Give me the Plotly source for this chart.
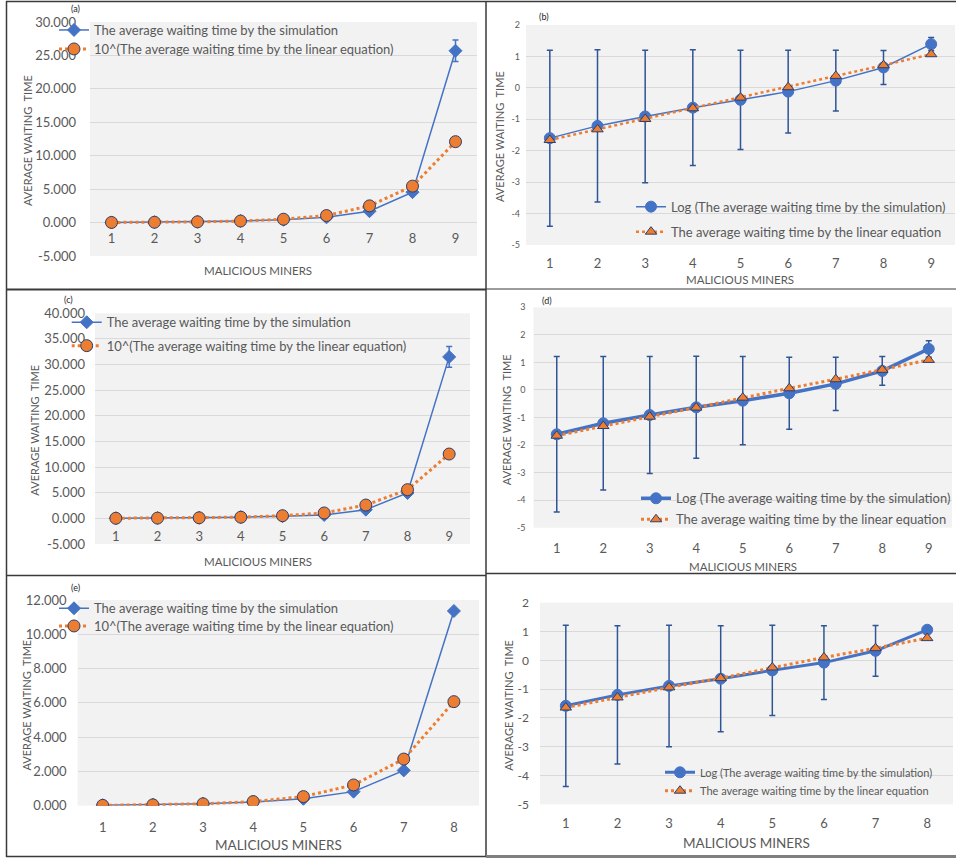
import plotly.graph_objects as go

W, H = 956, 858
def px(x): return x / W
def py(y): return 1 - y / H

# ---------------- data ----------------
miners9 = [1, 2, 3, 4, 5, 6, 7, 8, 9]
miners8 = [1, 2, 3, 4, 5, 6, 7, 8]

a_sim = [0.02, 0.06, 0.12, 0.24, 0.42, 0.78, 1.70, 4.55, 25.7]
a_sim_err = [None, None, None, None, None, None, None, None, 1.6]
a_lin = [0.02, 0.05, 0.11, 0.23, 0.50, 1.05, 2.50, 5.45, 12.1]

b_sim = [-1.60, -1.21, -0.91, -0.63, -0.38, -0.12, 0.23, 0.65, 1.39]
b_sim_err = [2.80, 2.42, 2.11, 1.84, 1.58, 1.32, 0.97, 0.54, 0.21]
b_lin = [-1.66, -1.32, -0.99, -0.65, -0.31, 0.02, 0.38, 0.72, 1.07]

c_sim = [0.02, 0.06, 0.12, 0.24, 0.41, 0.66, 1.70, 4.95, 31.5]
c_sim_err = [None, None, None, None, None, None, None, None, 2.0]
c_lin = [0.02, 0.05, 0.11, 0.23, 0.52, 1.05, 2.60, 5.60, 12.55]

d_sim = [-1.61, -1.21, -0.91, -0.63, -0.39, -0.12, 0.22, 0.69, 1.49]
d_sim_err = [2.82, 2.42, 2.12, 1.85, 1.60, 1.31, 0.97, 0.52, 0.30]
d_lin = [-1.66, -1.31, -0.97, -0.64, -0.28, 0.06, 0.39, 0.73, 1.09]

e_sim = [0.03, 0.06, 0.12, 0.22, 0.40, 0.82, 2.06, 11.36]
e_lin = [0.02, 0.05, 0.11, 0.24, 0.53, 1.21, 2.72, 6.07]

f_sim = [-1.58, -1.20, -0.89, -0.64, -0.35, -0.08, 0.33, 1.06]
f_sim_err = [2.80, 2.40, 2.11, 1.84, 1.57, 1.28, 0.88, None]
f_lin = [-1.64, -1.29, -0.94, -0.62, -0.25, 0.10, 0.42, 0.77]

ticks_big_a = [-5, 0, 5, 10, 15, 20, 25, 30]
ticks_big_a_text = ["-5.000", "0.000", "5.000", "10.000", "15.000", "20.000", "25.000", "30.000"]
ticks_big_c = [-5, 0, 5, 10, 15, 20, 25, 30, 35, 40]
ticks_big_c_text = ["-5.000", "0.000", "5.000", "10.000", "15.000", "20.000", "25.000", "30.000", "35.000", "40.000"]
ticks_big_e = [0, 2, 4, 6, 8, 10, 12]
ticks_big_e_text = ["0.000", "2.000", "4.000", "6.000", "8.000", "10.000", "12.000"]
ticks_log_b = [-5, -4, -3, -2, -1, 0, 1, 2]
ticks_log_b_text = ["-5", "-4", "-3", "-2", "-1", "0", "1", "2"]
ticks_log_d = [-5, -4, -3, -2, -1, 0, 1, 2, 3]
ticks_log_d_text = ["-5", "-4", "-3", "-2", "-1", "0", "1", "2", "3"]

name_sim = "The average waiting time by the simulation"
name_lin10 = "10^(The average waiting time by the linear equation)"
name_simlog = "Log (The average waiting time by the simulation)"
name_lin = "The average waiting time by the linear equation"

BLUE = "#4472C4"
ORANGE = "#ED7D31"
OUTLINE = "#2F3F6B"
GRAY_TXT = "#595959"
GRID = "#D9D9D9"
FONT = "Lato, 'Liberation Sans', sans-serif"

fig = go.Figure()

panels = [
    dict(key="a", idx=1, x=miners9, sim=a_sim, err=a_sim_err, lin=a_lin, kind="big",
         dom=(90, 477, 22, 256), rng=(-5, 30), tv=ticks_big_a, tt=ticks_big_a_text, ytick_fs=13, ygap=13,
         xfree=True, xgap=6, xfs=13,
         leg=(54, 30, 49), legfs=13, names=(name_sim, name_lin10),
         label="(a)", label_xy=(75, 8.5), ytitle_x=27, ytitle_fs=11, xtitle_xy=(258, 270), xtitle_fs=11.5),
    dict(key="b", idx=2, x=miners9, sim=b_sim, err=b_sim_err, lin=b_lin, kind="log",
         dom=(526, 955, 25, 245), rng=(-5, 2), tv=ticks_log_b, tt=ticks_log_b_text, ytick_fs=9, ygap=5,
         xfree=False, xgap=9, xfs=13,
         leg=(631, 206.7, 231.7), legfs=13, names=(name_simlog, name_lin), simw=1.5,
         label="(b)", label_xy=(544, 16), ytitle_x=500, ytitle_fs=11, xtitle_xy=(740, 279), xtitle_fs=11.5),
    dict(key="c", idx=3, x=miners9, sim=c_sim, err=c_sim_err, lin=c_lin, kind="big",
         dom=(95, 470, 313.3, 544), rng=(-5, 40), tv=ticks_big_c, tt=ticks_big_c_text, ytick_fs=13, ygap=9,
         xfree=True, xgap=9, xfs=13,
         leg=(66.7, 322.3, 345.7), legfs=13, names=(name_sim, name_lin10),
         label="(c)", label_xy=(68, 299), ytitle_x=35, ytitle_fs=11, xtitle_xy=(258, 561.7), xtitle_fs=11.5),
    dict(key="d", idx=4, x=miners9, sim=d_sim, err=d_sim_err, lin=d_lin, kind="log",
         dom=(533.5, 952, 307.3, 527.7), rng=(-5, 3), tv=ticks_log_d, tt=ticks_log_d_text, ytick_fs=9, ygap=7,
         xfree=False, xgap=11, xfs=13,
         leg=(636, 498.3, 519.3), legfs=13, names=(name_simlog, name_lin), simw=3.5,
         label="(d)", label_xy=(546.7, 300.7), ytitle_x=506.7, ytitle_fs=11, xtitle_xy=(743, 566.7), xtitle_fs=11.5),
    dict(key="e", idx=5, x=miners8, sim=e_sim, err=None, lin=e_lin, kind="big",
         dom=(77.6, 479, 600, 805.7), rng=(0, 12), tv=ticks_big_e, tt=ticks_big_e_text, ytick_fs=13, ygap=10,
         xfree=False, xgap=12, xfs=13,
         leg=(54, 608.3, 626), legfs=13, names=(name_sim, name_lin10),
         label="(e)", label_xy=(75, 587.5), ytitle_x=26.7, ytitle_fs=11, xtitle_xy=(278.3, 845), xtitle_fs=13.5),
    dict(key="f", idx=6, x=miners8, sim=f_sim, err=f_sim_err, lin=f_lin, kind="log",
         dom=(540, 953, 602.7, 804.3), rng=(-5, 2), tv=ticks_log_b, tt=ticks_log_b_text, ytick_fs=12, ygap=10,
         xfree=False, xgap=10, xfs=13,
         leg=(660, 772.3, 790.7), legfs=11, names=(name_simlog, name_lin), simw=3,
         label=None, label_xy=None, ytitle_x=508.3, ytitle_fs=11, xtitle_xy=(746.7, 843.3), xtitle_fs=13.5),
]

annotations = []
leg_counter = 0
def next_legend():
    global leg_counter
    leg_counter += 1
    return "legend" if leg_counter == 1 else "legend" + str(leg_counter)

for p in panels:
    i = p["idx"]
    sfx = "" if i == 1 else str(i)
    xa, ya = "x" + sfx, "y" + sfx
    x0, x1, y0, y1 = p["dom"]
    n = len(p["x"])

    err = None
    if p["err"] is not None:
        err = dict(type="data", array=p["err"], visible=True, color="#2F5597" if p["kind"] == "log" else BLUE,
                   thickness=1.5, width=3)

    if p["kind"] == "big":
        sim_marker = dict(symbol="diamond", size=10, color=BLUE, line=dict(color=BLUE, width=1))
        sim_line = dict(color=BLUE, width=1.5)
        lin_marker = dict(symbol="circle", size=12, color=ORANGE, line=dict(color=OUTLINE, width=1))
        lin_line = dict(color=ORANGE, width=3, dash="dot")
    else:
        sim_marker = dict(symbol="circle", size=11, color=BLUE, line=dict(color=BLUE, width=1))
        sim_line = dict(color=BLUE, width=p.get("simw", 1.5))
        lin_marker = dict(symbol="triangle-up", size=10, color=ORANGE, line=dict(color=OUTLINE, width=1))
        lin_line = dict(color=ORANGE, width=2.5 if p["key"] == "b" else 3, dash="dot")

    lx, ly1, ly2 = p["leg"]
    series = [(p["sim"], p["names"][0], sim_line, sim_marker, err, ly1),
              (p["lin"], p["names"][1], lin_line, lin_marker, None, ly2)]
    for yvals, nm, ln, mk, er, ly in series:
        lg = next_legend()
        fig.add_trace(go.Scatter(x=p["x"], y=yvals, mode="lines+markers", name=nm,
                                 line=ln, marker=mk, error_y=er,
                                 xaxis=xa, yaxis=ya, legend=lg))
        fig.update_layout(**{lg: dict(x=px(lx), y=py(ly), xanchor="left", yanchor="middle",
                                      bgcolor="rgba(0,0,0,0)", borderwidth=0,
                                      font=dict(family=FONT, size=p["legfs"], color=GRAY_TXT),
                                      itemwidth=30)})

    xaxis = dict(domain=[px(x0), px(x1)], range=[0.5, n + 0.5], tickvals=p["x"],
                 showgrid=False, zeroline=False, showline=False, automargin=False,
                 ticks="", ticklabelstandoff=p["xgap"],
                 tickfont=dict(family=FONT, size=p["xfs"], color=GRAY_TXT), fixedrange=True)
    if p["xfree"]:
        zero_px = y0 + (y1 - y0) * (p["rng"][1] - 0) / (p["rng"][1] - p["rng"][0])
        xaxis.update(anchor="free", position=py(zero_px))
    else:
        xaxis.update(anchor=ya)
    yaxis = dict(domain=[py(y1), py(y0)], range=list(p["rng"]), tickvals=p["tv"], ticktext=p["tt"],
                 showgrid=True, gridcolor=GRID, gridwidth=1, zeroline=False, showline=False, automargin=False,
                 ticks="", ticklabelstandoff=p["ygap"],
                 tickfont=dict(family=FONT, size=p["ytick_fs"], color=GRAY_TXT), anchor=xa, fixedrange=True)
    fig.update_layout(**{"xaxis" + sfx: xaxis, "yaxis" + sfx: yaxis})

    annotations.append(dict(x=px(p["ytitle_x"]), y=py((y0 + y1) / 2 + 2), xref="paper", yref="paper",
                            text="AVERAGE WAITING\u00a0 TIME", textangle=-90, showarrow=False,
                            font=dict(family=FONT, size=p["ytitle_fs"], color=GRAY_TXT),
                            xanchor="center", yanchor="middle"))
    annotations.append(dict(x=px(p["xtitle_xy"][0]), y=py(p["xtitle_xy"][1]), xref="paper", yref="paper",
                            text="MALICIOUS MINERS", showarrow=False,
                            font=dict(family=FONT, size=p["xtitle_fs"], color=GRAY_TXT),
                            xanchor="center", yanchor="middle"))
    if p["label"]:
        annotations.append(dict(x=px(p["label_xy"][0]), y=py(p["label_xy"][1]), xref="paper", yref="paper",
                                text=p["label"], showarrow=False,
                                font=dict(family=FONT, size=9, color="#262626"),
                                xanchor="center", yanchor="middle"))

BC = "#3A3A3A"
shapes = []
def hline(xa_, xb_, y_, w=1.5):
    shapes.append(dict(type="line", xref="paper", yref="paper", x0=px(xa_), x1=px(xb_), y0=py(y_), y1=py(y_),
                       line=dict(color=BC, width=w)))
def vline(x_, ya_, yb_, w=1.5):
    shapes.append(dict(type="line", xref="paper", yref="paper", x0=px(x_), x1=px(x_), y0=py(ya_), y1=py(yb_),
                       line=dict(color=BC, width=w)))

hline(6, 956, 1.5)
vline(6.5, 1, 857)
vline(486, 1, 857)
hline(6, 486, 289.5, 2)
hline(486, 956, 289, 1.2)
hline(6, 486, 575.5, 1.5)
hline(486, 956, 573.5, 1.5)
hline(6, 486, 856.5, 1.5)
shapes.append(dict(type="rect", xref="paper", yref="paper", x0=px(486), x1=px(956), y0=py(858), y1=py(855),
                   fillcolor="#7F7F7F", line=dict(width=0)))

fig.update_layout(width=W, height=H, margin=dict(l=0, r=0, t=0, b=0, pad=0, autoexpand=False), autosize=False,
                  paper_bgcolor="white", plot_bgcolor="#F2F2F2",
                  annotations=annotations, shapes=shapes, showlegend=True)

fig.write_html("out.html", config={"responsive": False, "displayModeBar": False},
               default_width="956px", default_height="858px",
               post_script="document.body.style.margin='0';document.body.style.overflow='hidden';")
